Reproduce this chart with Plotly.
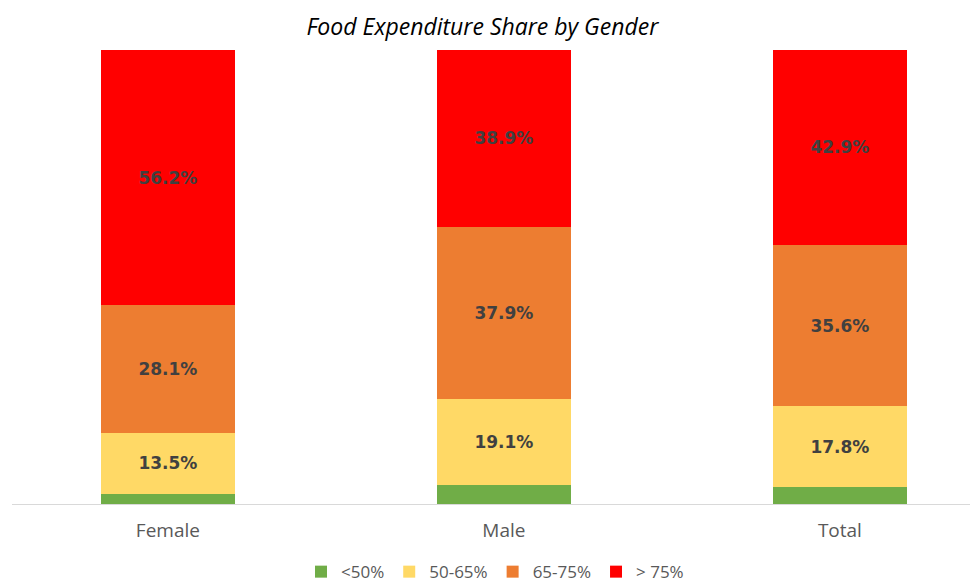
import plotly.graph_objects as go

categories = ["Female", "Male", "Total"]
series_names = ["<50%", "50-65%", "65-75%", "> 75%"]
lt50 = [2.2, 4.1, 3.7]
s50_65 = [13.5, 19.1, 17.8]
s65_75 = [28.1, 37.9, 35.6]
gt75 = [56.2, 38.9, 42.9]
colors = ["#70AD47", "#FFD966", "#ED7D31", "#FF0000"]
show_labels = [False, True, True, True]

fig = go.Figure()
for name, vals, col, lab in zip(series_names, [lt50, s50_65, s65_75, gt75], colors, show_labels):
    fig.add_trace(go.Bar(
        x=categories, y=vals, name=name,
        marker=dict(color=col, line=dict(width=0)),
        width=0.4,
        text=[f"{v:.1f}%" for v in vals] if lab else None,
        textposition="inside" if lab else "none",
        insidetextanchor="middle",
        textangle=0,
        textfont=dict(family="DejaVu Sans", size=17, color="#404040", weight="bold"),
        hoverinfo="skip",
    ))

fig.update_layout(
    barmode="stack",
    width=978, height=583,
    margin=dict(l=4, r=8, t=42, b=87, autoexpand=False),
    paper_bgcolor="white", plot_bgcolor="white",
    title=dict(text="<i>Food Expenditure Share by Gender</i>", x=0.485, xanchor="center",
               y=1 - 19 / 583, yref="container", yanchor="middle",
               font=dict(family="Open Sans", size=23, color="#000000")),
    showlegend=True,
    legend=dict(orientation="h", x=0.5, xanchor="center", y=-0.150, yanchor="middle",
                font=dict(family="Open Sans", size=17, color="#595959"),
                traceorder="normal", itemwidth=30, tracegroupgap=0),
    uniformtext=dict(minsize=8, mode="show"),
)
fig.update_xaxes(range=[-0.464, 2.411], showline=True, linecolor="#D9D9D9", linewidth=1,
                 ticks="", ticklabelstandoff=9,
                 tickfont=dict(family="Open Sans", size=19, color="#595959"),
                 showgrid=False)
fig.update_yaxes(range=[0, 100], visible=False, showgrid=False)

fig.write_html("out.html")
